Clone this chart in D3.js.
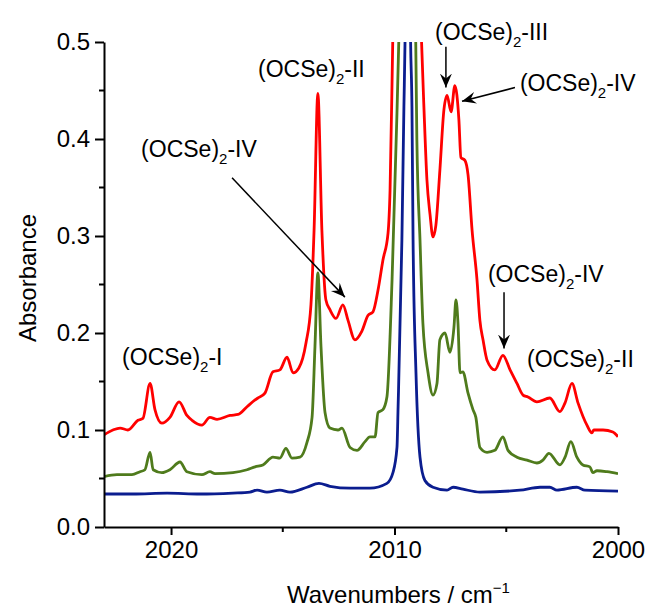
<!DOCTYPE html>
<html>
<head>
<meta charset="utf-8">
<script src="https://cdn.jsdelivr.net/npm/d3@7"></script>
<style>
  body { margin: 0; background: #fff; }
  text { font-family: "Liberation Sans", Arial, sans-serif; }
</style>
</head>
<body>
<script>
// Spectra: [wavenumber, absorbance]
let redSpectrum = [
    [2023.0, 0.095], [2022.6, 0.100], [2022.28, 0.102], [2021.93, 0.100], [2021.48, 0.110],
    [2021.26, 0.112], [2020.94, 0.148], [2020.72, 0.121], [2020.41, 0.107], [2020.05, 0.113],
    [2019.64, 0.129], [2019.29, 0.115], [2019.06, 0.110], [2018.62, 0.105], [2018.26, 0.113],
    [2017.94, 0.111], [2017.36, 0.115], [2017.0, 0.116], [2016.6, 0.124], [2016.24, 0.131],
    [2016.11, 0.133], [2015.8, 0.138], [2015.44, 0.160], [2015.13, 0.162], [2014.81, 0.175],
    [2014.54, 0.159], [2014.28, 0.164], [2013.96, 0.190], [2013.74, 0.229], [2013.6, 0.306],
    [2013.43, 0.447], [2013.25, 0.306], [2013.07, 0.234], [2012.89, 0.224], [2012.62, 0.215],
    [2012.31, 0.229], [2012.08, 0.213], [2011.77, 0.193], [2011.46, 0.202], [2011.19, 0.218],
    [2010.96, 0.222], [2010.74, 0.244], [2010.52, 0.275], [2010.29, 0.303], [2010.2, 0.347],
    [2010.08, 0.500], [2009.76, 0.85], [2009.44, 1.1], [2009.13, 0.85], [2008.79, 0.500],
    [2008.68, 0.430], [2008.55, 0.358], [2008.41, 0.322], [2008.28, 0.299], [2008.15, 0.311],
    [2007.97, 0.368], [2007.79, 0.430], [2007.65, 0.445], [2007.47, 0.428], [2007.3, 0.455],
    [2007.12, 0.420], [2007.03, 0.381], [2006.85, 0.378], [2006.71, 0.363], [2006.53, 0.306],
    [2006.31, 0.255], [2006.18, 0.213], [2006.04, 0.193], [2005.86, 0.172], [2005.51, 0.162],
    [2005.15, 0.177], [2004.83, 0.162], [2004.52, 0.148], [2004.25, 0.136], [2004.03, 0.134],
    [2003.63, 0.129], [2003.05, 0.133], [2002.6, 0.119], [2002.37, 0.128], [2002.06, 0.148],
    [2001.79, 0.128], [2001.39, 0.105], [2001.17, 0.097], [2001.08, 0.100], [2000.67, 0.100],
    [2000.23, 0.098], [2000.0, 0.093]
];

let greenSpectrum = [
    [2023.0, 0.052], [2022.42, 0.054], [2021.75, 0.054], [2021.39, 0.057], [2021.17, 0.059],
    [2020.94, 0.077], [2020.8, 0.059], [2020.41, 0.056], [2020.05, 0.059], [2019.6, 0.067],
    [2019.29, 0.057], [2018.62, 0.054], [2018.26, 0.057], [2018.03, 0.055], [2017.23, 0.056],
    [2016.6, 0.059], [2016.24, 0.062], [2015.89, 0.064], [2015.44, 0.072], [2015.13, 0.071],
    [2014.86, 0.081], [2014.59, 0.071], [2014.23, 0.072], [2013.92, 0.087], [2013.69, 0.113],
    [2013.56, 0.186], [2013.43, 0.262], [2013.29, 0.186], [2013.11, 0.118], [2012.89, 0.102],
    [2012.53, 0.100], [2012.35, 0.102], [2011.99, 0.082], [2011.68, 0.079], [2011.32, 0.088],
    [2011.1, 0.093], [2010.87, 0.093], [2010.74, 0.118], [2010.52, 0.121], [2010.34, 0.134],
    [2010.11, 0.255], [2009.89, 0.427], [2009.81, 0.500], [2009.44, 1.0], [2009.05, 0.500],
    [2009.0, 0.399], [2008.86, 0.296], [2008.73, 0.210], [2008.5, 0.159], [2008.28, 0.136],
    [2008.1, 0.148], [2007.97, 0.193], [2007.74, 0.200], [2007.52, 0.180], [2007.34, 0.206],
    [2007.25, 0.234], [2007.16, 0.210], [2007.07, 0.159], [2006.94, 0.160], [2006.71, 0.138],
    [2006.49, 0.121], [2006.36, 0.113], [2006.18, 0.082], [2005.86, 0.077], [2005.51, 0.079],
    [2005.15, 0.093], [2004.92, 0.079], [2004.52, 0.072], [2004.07, 0.069], [2003.63, 0.066],
    [2003.36, 0.069], [2003.09, 0.076], [2002.6, 0.064], [2002.37, 0.072], [2002.11, 0.088],
    [2001.84, 0.072], [2001.57, 0.064], [2001.26, 0.062], [2001.12, 0.056], [2000.94, 0.058],
    [2000.49, 0.057], [2000.0, 0.055]
];

let blueSpectrum = [
    [2023.0, 0.034], [2021.7, 0.034], [2020.18, 0.035], [2018.7, 0.034], [2017.23, 0.035],
    [2016.47, 0.036], [2016.15, 0.038], [2015.71, 0.036], [2015.13, 0.038], [2014.68, 0.036],
    [2013.92, 0.041], [2013.38, 0.045], [2012.89, 0.042], [2011.99, 0.040], [2011.1, 0.040],
    [2010.34, 0.045], [2010.07, 0.056], [2009.89, 0.082], [2009.84, 0.124], [2009.67, 0.296],
    [2009.58, 0.433], [2009.53, 0.500], [2009.41, 0.9], [2009.28, 0.500], [2009.22, 0.433],
    [2009.17, 0.296], [2009.04, 0.159], [2008.86, 0.072], [2008.64, 0.048], [2008.28, 0.041],
    [2007.65, 0.038], [2007.38, 0.041], [2006.94, 0.039], [2006.18, 0.036], [2004.39, 0.038],
    [2003.49, 0.041], [2003.05, 0.041], [2002.73, 0.038], [2001.84, 0.041], [2001.48, 0.038],
    [2000.0, 0.037]
];

let seriesColors = ['#0b1d8f', '#4f7b1c', '#ff0000'];

let xTicks = [2020, 2010, 2000];
let xMinorTicks = [2015, 2005];
let yTicks = [0.0, 0.1, 0.2, 0.3, 0.4, 0.5];
let yMinorTicks = [0.05, 0.15, 0.25, 0.35, 0.45];

// label text, subscript, suffix, anchor wavenumber, anchor absorbance
let labels = [
    ['(OCSe)', '2', '-II', 2016.11, 0.464],
    ['(OCSe)', '2', '-IV', 2021.34, 0.381],
    ['(OCSe)', '2', '-III', 2008.19, 0.502],
    ['(OCSe)', '2', '-IV', 2004.39, 0.449],
    ['(OCSe)', '2', '-IV', 2005.82, 0.253],
    ['(OCSe)', '2', '-II', 2004.07, 0.165],
    ['(OCSe)', '2', '-I', 2022.19, 0.167]
];

// arrows: from [wn, abs] to [wn, abs]
let arrows = [
    [[2017.27, 0.360], [2012.22, 0.237]],
    [[2007.70, 0.495], [2007.70, 0.453]],
    [[2004.61, 0.453], [2006.98, 0.439]],
    [[2005.10, 0.242], [2005.10, 0.184]]
];

let width = 647, height = 612;

let margin = {
    top: 42,
    bottom: 85,
    left: 104,
    right: 29
};

let svg = d3
    .select('body')
    .append('svg')
    .attr('width', width)
    .attr('height', height)
    .style('background', '#fff');

let xScale = d3.scaleLinear()
    .domain([2023, 2000])
    .range([margin.left, width - margin.right]);

let yScale = d3.scaleLinear()
    .domain([0, 0.5])
    .range([height - margin.bottom, margin.top]);

// clip curves to plot area
svg.append('defs')
    .append('clipPath')
    .attr('id', 'plot-clip')
    .append('rect')
    .attr('x', margin.left)
    .attr('y', margin.top)
    .attr('width', width - margin.left - margin.right)
    .attr('height', height - margin.top - margin.bottom);

svg.select('defs')
    .append('marker')
    .attr('id', 'arrowhead')
    .attr('viewBox', '-14 -7 16 14')
    .attr('refX', 0)
    .attr('refY', 0)
    .attr('markerWidth', 16)
    .attr('markerHeight', 14)
    .attr('markerUnits', 'userSpaceOnUse')
    .attr('orient', 'auto')
    .append('path')
    .attr('d', 'M0,0 L-14,-6 L-9,0 L-14,6 Z')
    .attr('fill', 'black');

// Draw spectra
let line = d3.line()
    .x(d => xScale(d[0]))
    .y(d => yScale(d[1]))
    .curve(d3.curveMonotoneX);

let curves = svg.append('g').attr('clip-path', 'url(#plot-clip)');

[blueSpectrum, greenSpectrum, redSpectrum].forEach((s, i) => {
    curves.append('path')
        .datum(s)
        .attr('d', line)
        .attr('fill', 'none')
        .attr('stroke', seriesColors[i])
        .attr('stroke-width', 2.8)
        .attr('stroke-linejoin', 'round');
});

// Axes
let xAxis = svg
    .append('g')
    .attr('transform', `translate(0,${height - margin.bottom})`)
    .call(d3.axisBottom(xScale).tickValues(xTicks).tickFormat(d3.format('d')).tickSizeInner(8).tickSizeOuter(0).tickPadding(6));

xAxis.selectAll('.minor')
    .data(xMinorTicks)
    .enter()
    .append('line')
    .attr('class', 'minor')
    .attr('x1', d => xScale(d))
    .attr('x2', d => xScale(d))
    .attr('y1', 0)
    .attr('y2', 5);

let yAxis = svg
    .append('g')
    .attr('transform', `translate(${margin.left},0)`)
    .call(d3.axisLeft(yScale).tickValues(yTicks).tickFormat(d3.format('.1f')).tickSizeInner(9).tickSizeOuter(0).tickPadding(5));

yAxis.selectAll('.minor')
    .data(yMinorTicks)
    .enter()
    .append('line')
    .attr('class', 'minor')
    .attr('x1', 0)
    .attr('x2', -5)
    .attr('y1', d => yScale(d))
    .attr('y2', d => yScale(d));

svg.selectAll('.domain, .tick line, .minor')
    .attr('stroke', 'black')
    .attr('stroke-width', 2);

svg.selectAll('.tick text')
    .style('font-family', '"Liberation Sans", Arial, sans-serif')
    .style('font-size', '24px')
    .style('fill', 'black');

// Axis titles
svg.append('text')
    .attr('transform', 'translate(36,278) rotate(-90)')
    .attr('text-anchor', 'middle')
    .style('font-size', '24px')
    .text('Absorbance');

let xTitle = svg.append('text')
    .attr('x', 287)
    .attr('y', 603)
    .style('font-size', '24px');
xTitle.append('tspan').text('Wavenumbers / cm');
xTitle.append('tspan').attr('dy', -10).style('font-size', '15px').text('\u22121');

// Annotations
labels.forEach(l => {
    let t = svg.append('text')
        .attr('x', xScale(l[3]))
        .attr('y', yScale(l[4]))
        .style('font-size', '23px');
    t.append('tspan').text(l[0]);
    t.append('tspan').attr('dy', 7).style('font-size', '15px').text(l[1]);
    t.append('tspan').attr('dy', -7).text(l[2]);
});

svg.selectAll('.arrow')
    .data(arrows)
    .enter()
    .append('line')
    .attr('class', 'arrow')
    .attr('x1', d => xScale(d[0][0]))
    .attr('y1', d => yScale(d[0][1]))
    .attr('x2', d => xScale(d[1][0]))
    .attr('y2', d => yScale(d[1][1]))
    .attr('stroke', 'black')
    .attr('stroke-width', 1.5)
    .attr('marker-end', 'url(#arrowhead)');
</script>
</body>
</html>
